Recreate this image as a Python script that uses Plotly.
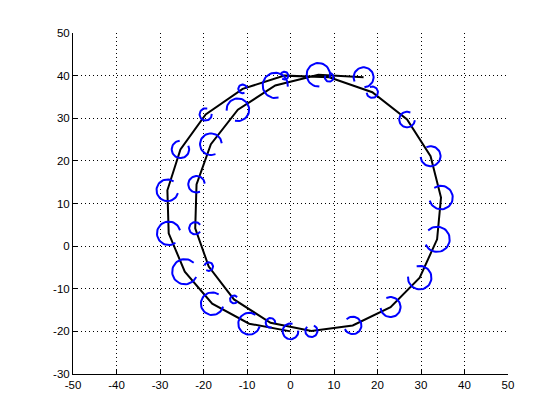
import numpy as np
import plotly.graph_objects as go

# trajectory points (in travel order); a circle is drawn at each one
path_x = [0.0, -9.5, -18.0, -24.3, -28.0, -28.3, -25.3, -19.5, -11.0, -1.4,
          8.9, 18.8, 26.8, 32.2, 34.6, 33.7, 29.7, 23.0, 14.3, 4.8,
          -4.6, -13.0, -18.8, -21.9, -21.6, -18.3, -12.1, -3.5, 6.4, 16.8]
path_y = [-20.0, -18.2, -13.5, -6.0, 3.0, 13.1, 22.7, 30.9, 36.9, 40.0,
          39.6, 36.1, 29.7, 21.1, 11.4, 1.6, -7.4, -14.3, -18.6, -19.9,
          -18.0, -12.5, -4.8, 4.2, 14.5, 23.9, 32.0, 37.7, 40.2, 39.6]
radius = [1.8, 2.5, 2.6, 2.9, 2.7, 2.5, 2.0, 1.4, 1.0, 0.9,
          1.0, 1.3, 1.8, 2.3, 2.7, 2.9, 2.7, 2.3, 2.0, 1.4,
          1.1, 0.9, 1.0, 1.4, 1.9, 2.5, 2.6, 2.9, 2.7, 2.3]
# direction (deg) where each circle outline is left open
gap_deg = [40, 20, 20, 10, -20, 20, 60, 40, -30, 200,
           120, 150, 30, 150, 160, 170, 140, 150, 170, 100,
           -40, 0, 200, 0, -30, -30, 220, -40, -50, -120]

x_ticks = [-50, -40, -30, -20, -10, 0, 10, 20, 30, 40, 50]
y_ticks = [-30, -20, -10, 0, 10, 20, 30, 40, 50]

W, H = 560, 420
# page body has an 8px margin, so the figure sits 8px right/down
M = dict(l=65, r=60, t=25, b=54)
x_range = [-50, 50]
y_range = [-30, 50]
# keep circles round on screen
px_x = (W - M["l"] - M["r"]) / (x_range[1] - x_range[0])
px_y = (H - M["t"] - M["b"]) / (y_range[1] - y_range[0])
aspect = px_x / px_y

cx, cy = [], []
for x0, y0, r, g in zip(path_x, path_y, radius, gap_deg):
    t = np.radians(np.linspace(g + 35, g + 325, 40))
    cx += list(x0 + r * np.cos(t)) + [None]
    cy += list(y0 + r * aspect * np.sin(t)) + [None]

fig = go.Figure()
fig.add_trace(go.Scatter(
    x=path_x, y=path_y, mode="lines",
    line=dict(color="black", width=2), hoverinfo="skip",
))
fig.add_trace(go.Scatter(
    x=cx, y=cy, mode="lines",
    line=dict(color="#0000ff", width=2), hoverinfo="skip",
))

axis_common = dict(
    showline=True, linecolor="black", linewidth=1,
    ticks="inside", ticklen=5, tickcolor="black", tickwidth=1,
    showgrid=True, gridcolor="black", gridwidth=1, griddash="1px,3px",
    zeroline=False, mirror=False,
    tickfont=dict(family="Liberation Sans, Arial", size=11.5, color="black"),
)
fig.update_layout(
    width=W, height=H, margin=M,
    paper_bgcolor="white", plot_bgcolor="white",
    showlegend=False,
    xaxis=dict(range=x_range, tickvals=x_ticks,
               ticktext=[str(v) for v in x_ticks], **axis_common),
    yaxis=dict(range=y_range, tickvals=y_ticks,
               ticktext=[str(v) for v in y_ticks], **axis_common),
)
fig.write_html("out.html")
